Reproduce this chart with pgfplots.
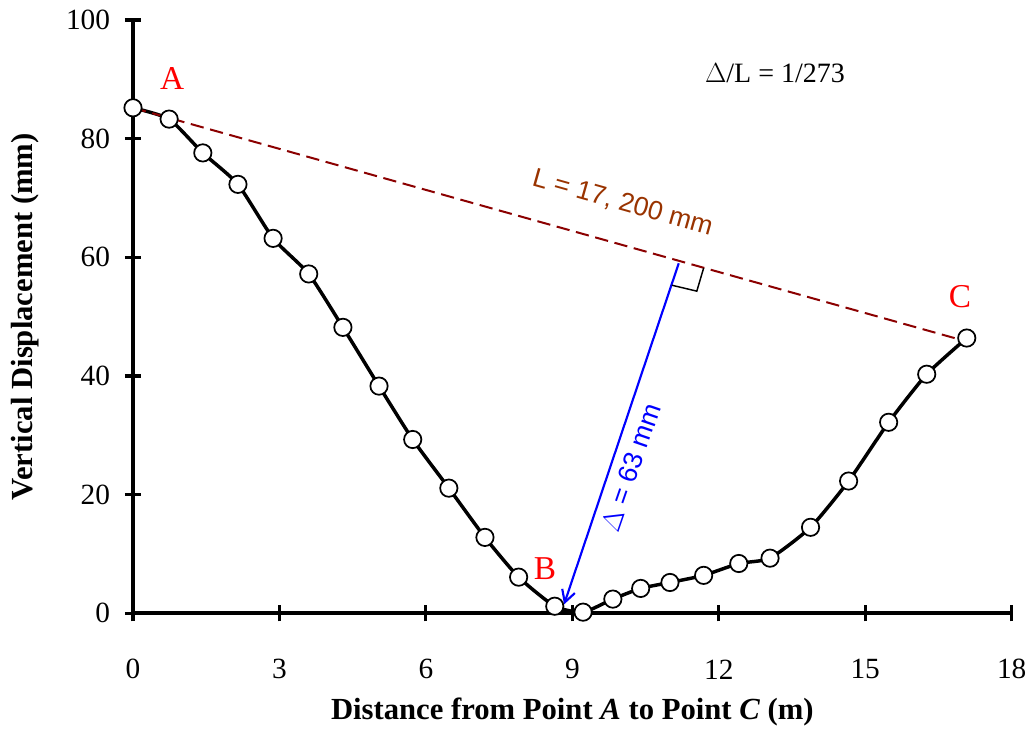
\documentclass[border=0pt]{standalone}
\usepackage{fontspec}
\setmainfont{Liberation Serif}
\setsansfont{Liberation Sans}
\usepackage{pgfplots}
\pgfplotsset{compat=1.18}
\usetikzlibrary{arrows.meta}
\definecolor{chordred}{RGB}{139,0,0}
\definecolor{lbrown}{RGB}{153,51,0}

\begin{document}
\begin{tikzpicture}
\begin{axis}[
  at={(0,0)}, anchor=south west,
  scale only axis, width=659pt, height=445pt,
  xmin=0, xmax=18, ymin=0, ymax=100,
  xtick={0,3,...,18}, ytick={0,20,...,100},
  axis x line=bottom, axis y line=left,
  axis line style={-, line width=3pt},
  tick style={line width=2.4pt, black},
  tick align=center, major tick length=12pt,
  /pgf/number format/assume math mode=true,
  tick label style={font=\fontsize{22}{26}\selectfont},
  xticklabel style={anchor=center},
  xticklabel shift=36pt,
  yticklabel style={anchor=east, inner sep=0pt},
  yticklabel shift=11pt,
  xlabel={\textbf{Distance from Point \textit{A}  to Point \textit{C}  (m)}},
  ylabel={\textbf{Vertical Displacement  (mm)}},
  label style={font=\fontsize{23}{27}\selectfont},
  xlabel style={at={(axis description cs:0.5,-0.167)}, anchor=center},
  ylabel style={at={(axis description cs:-0.123,0.5)}, anchor=center},
  clip=false,
]
\addplot[black, line width=2.6pt, smooth, tension=0.35,
  mark=*, mark size=6.5pt, mark options={fill=white, draw=black, line width=1.3pt}]
coordinates {
(0,85.2) (0.74,83.3) (1.43,77.6) (2.15,72.3) (2.87,63.2) (3.60,57.2)
(4.30,48.2) (5.04,38.3) (5.73,29.3) (6.47,21.1) (7.21,12.8) (7.90,6.1)
(8.64,1.2) (9.22,0.2) (9.83,2.4) (10.40,4.2) (11.00,5.2) (11.69,6.4)
(12.41,8.4) (13.05,9.3) (13.88,14.5) (14.66,22.3) (15.48,32.2)
(16.26,40.3) (17.08,46.4)
};
\draw[chordred, line width=1.5pt, dash pattern=on 10pt off 5pt]
  (axis cs:0,85.2) -- (axis cs:17.0,46.0);
\draw[blue, line width=1.6pt, -{Straight Barb[length=9pt,width=10pt,line width=1.6pt]}]
  (axis cs:11.18,59.0) -- (axis cs:8.83,1.5);
\draw[black, line width=1.1pt]
  (axis cs:11.04,55.3) -- (axis cs:11.55,54.3) -- (axis cs:11.69,58.2);
\node[lbrown, font=\sffamily\fontsize{20}{24}\selectfont, rotate=-15.7]
  at (axis cs:10.03,69.1) {L = 17, 200 mm};
\node[blue, font=\sffamily\fontsize{20}{24}\selectfont, rotate=71]
  at (axis cs:10.20,24.6) {$\Delta$ = 63 mm};
\node[font=\fontsize{21}{24}\selectfont] at (axis cs:13.15,91.1) {$\Delta$/L = 1/273};
\node[red, font=\fontsize{25}{28}\selectfont] at (axis cs:0.80,90.2) {A};
\node[red, font=\fontsize{25}{28}\selectfont] at (axis cs:8.44,7.6) {B};
\node[red, font=\fontsize{25}{28}\selectfont] at (axis cs:16.94,53.3) {C};
\end{axis}
\pgfresetboundingbox
\path[use as bounding box] (-99.75pt,-90pt) rectangle (671.25pt,460pt);
\end{tikzpicture}
\end{document}
